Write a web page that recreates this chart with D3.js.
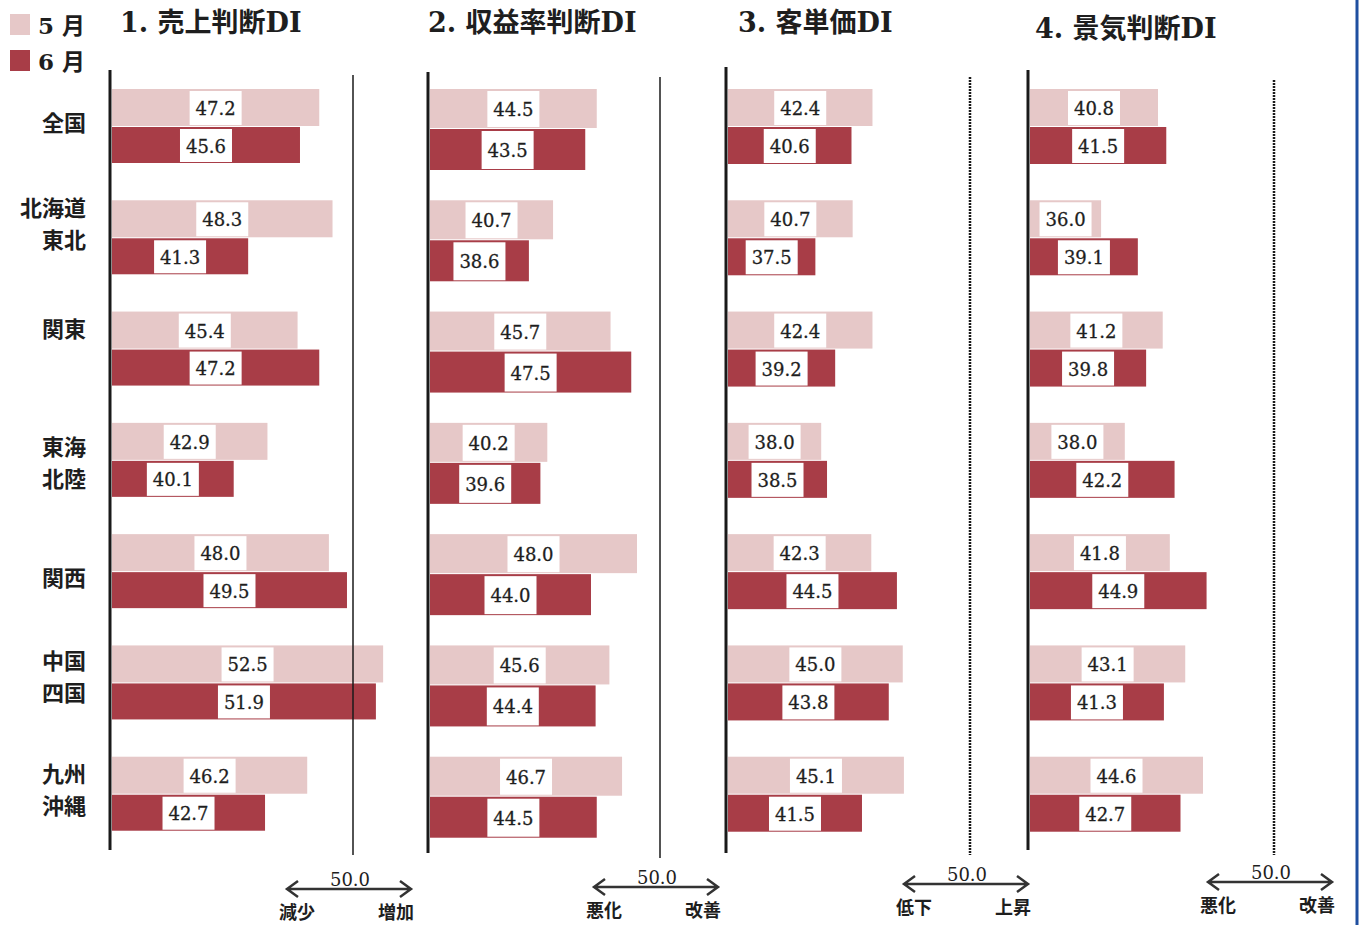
<!DOCTYPE html>
<html>
<head>
<meta charset="utf-8">
<title>DI chart</title>
<script src="https://d3js.org/d3.v7.min.js"></script>
<style>
  body { margin: 0; background: #fff; }
  text { fill: #1e1e1e; }
</style>
</head>
<body>
<script>
// データ
const regionNames = [["全国"], ["北海道", "東北"], ["関東"], ["東海", "北陸"], ["関西"], ["中国", "四国"], ["九州", "沖縄"]];
const monthLabels = ["5 月", "6 月"];
const panelTitles = ["1. 売上判断DI", "2. 収益率判断DI", "3. 客単価DI", "4. 景気判断DI"];
const salesMay    = [47.2, 48.3, 45.4, 42.9, 48.0, 52.5, 46.2];
const salesJun    = [45.6, 41.3, 47.2, 40.1, 49.5, 51.9, 42.7];
const profitMay   = [44.5, 40.7, 45.7, 40.2, 48.0, 45.6, 46.7];
const profitJun   = [43.5, 38.6, 47.5, 39.6, 44.0, 44.4, 44.5];
const priceMay    = [42.4, 40.7, 42.4, 38.0, 42.3, 45.0, 45.1];
const priceJun    = [40.6, 37.5, 39.2, 38.5, 44.5, 43.8, 41.5];
const businessMay = [40.8, 36.0, 41.2, 38.0, 41.8, 43.1, 44.6];
const businessJun = [41.5, 39.1, 39.8, 42.2, 44.9, 41.3, 42.7];
const directionLabels = [["減少", "増加"], ["悪化", "改善"], ["低下", "上昇"], ["悪化", "改善"]];
const baseValue = 30;
const refValue = 50;
const refLabel = "50.0";

const series = [[salesMay, salesJun], [profitMay, profitJun], [priceMay, priceJun], [businessMay, businessJun]];
const colors = ["#e6c8c8", "#a83d47"];

// 画面配置（パネルごと）
const layout = [
  {x0: 112, x50: 353, refShift: 0, barH: [37, 36], axisTop: 70, axisBottom: 850, refTop: 75, refBottom: 855, dotted: false, titleX: 120, titleY: 22, arrowY: 889},
  {x0: 430, x50: 660, refShift: 0, barH: [39, 41], axisTop: 72, axisBottom: 853, refTop: 77, refBottom: 858, dotted: false, titleX: 428, titleY: 22, arrowY: 887},
  {x0: 728, x50: 961, refShift: 9, barH: [37, 37], axisTop: 67, axisBottom: 853, refTop: 77, refBottom: 855, dotted: true, titleX: 738, titleY: 22, arrowY: 884},
  {x0: 1030, x50: 1267, refShift: 7, barH: [37, 37], axisTop: 70, axisBottom: 850, refTop: 80, refBottom: 855, dotted: true, titleX: 1035, titleY: 28, arrowY: 882}
];
const labelDy = [32, 6, 15, 22, 42, 14, 15];

const width = 1362, height = 925;
const svg = d3.select("body").append("svg")
  .attr("width", width).attr("height", height);

const numFont = "'DejaVu Serif', serif";
const jpFont = "'DejaVu Serif', 'Noto Sans CJK JP', sans-serif";

const groupY = d3.scaleLinear().domain([0, regionNames.length]).range([89, 868]);

// 凡例
monthLabels.forEach(function(m, i) {
  svg.append("rect").attr("x", 10).attr("y", 14 + i * 36).attr("width", 20).attr("height", 21)
    .attr("fill", colors[i]);
  svg.append("text").attr("x", 38).attr("y", 25 + i * 36)
    .attr("dominant-baseline", "central")
    .style("font-family", jpFont).style("font-weight", "bold").style("font-size", "23px")
    .text(m);
});

// 地域ラベル
regionNames.forEach(function(lines, i) {
  lines.forEach(function(s, k) {
    svg.append("text")
      .attr("text-anchor", "end")
      .attr("x", 86).attr("y", groupY(i) + labelDy[i] + k * 32)
      .attr("dominant-baseline", "central")
      .style("font-family", "'Noto Sans CJK JP', sans-serif").style("font-weight", "bold").style("font-size", "22px")
      .text(s);
  });
});

// パネル
series.forEach(function(pair, p) {
  const L = layout[p];
  const x = d3.scaleLinear().domain([baseValue, refValue]).range([L.x0, L.x50]);
  const g = svg.append("g");

  g.append("text").attr("x", L.titleX).attr("y", L.titleY)
    .attr("dominant-baseline", "central")
    .style("font-family", jpFont).style("font-weight", "bold").style("font-size", "27px")
    .text(panelTitles[p]);

  pair.forEach(function(vals, s) {
    const yOff = s === 0 ? 0 : L.barH[0] + 1;
    const h = L.barH[s];
    const bars = g.selectAll(".bar" + s).data(vals).enter().append("g");
    bars.append("rect")
      .attr("x", x(baseValue))
      .attr("y", function(d, i) { return groupY(i) + yOff; })
      .attr("width", function(d) { return x(d) - x(baseValue); })
      .attr("height", h)
      .attr("fill", colors[s]);
    bars.append("rect")
      .attr("x", function(d) { return (x(baseValue) + x(d)) / 2 - 26; })
      .attr("y", function(d, i) { return groupY(i) + yOff + 2; })
      .attr("width", 52)
      .attr("height", h - 3)
      .attr("fill", "#fff");
    bars.append("text")
      .attr("x", function(d) { return (x(baseValue) + x(d)) / 2; })
      .attr("y", function(d, i) { return groupY(i) + yOff + h / 2 + 1; })
      .attr("text-anchor", "middle").attr("dominant-baseline", "central")
      .style("font-family", numFont).style("font-size", "18px")
      .style("stroke", "#1e1e1e").style("stroke-width", 0.3)
      .text(function(d) { return d.toFixed(1); });
  });

  // 縦軸
  g.append("line").attr("x1", x(baseValue) - 2).attr("x2", x(baseValue) - 2)
    .attr("y1", L.axisTop).attr("y2", L.axisBottom)
    .attr("stroke", "#1a1a1a").attr("stroke-width", 3);

  // 50.0 の線
  const cx = x(refValue) + L.refShift;
  g.append("line").attr("x1", cx).attr("x2", cx)
    .attr("y1", L.refTop).attr("y2", L.refBottom)
    .attr("stroke", "#1a1a1a").attr("stroke-width", L.dotted ? 2.5 : 1.5)
    .attr("stroke-dasharray", L.dotted ? "2,1" : null);

  // 下の矢印
  const ay = L.arrowY;
  const l = cx - 66, r = cx + 58;
  g.append("path")
    .attr("d", "M" + (l + 11) + "," + (ay - 8) + "L" + l + "," + ay + "L" + (l + 11) + "," + (ay + 8)
      + "M" + l + "," + ay + "H" + r
      + "M" + (r - 11) + "," + (ay - 8) + "L" + r + "," + ay + "L" + (r - 11) + "," + (ay + 8))
    .attr("fill", "none").attr("stroke", "#333").attr("stroke-width", 2.5);
  g.append("text").attr("x", cx - 3).attr("y", ay - 3)
    .attr("text-anchor", "middle")
    .style("font-family", numFont).style("font-size", "18px")
    .text(refLabel);
  directionLabels[p].forEach(function(s, k) {
    g.append("text").attr("x", k === 0 ? cx - 56 : cx + 43).attr("y", ay + 22)
      .attr("text-anchor", "middle").attr("dominant-baseline", "central")
      .style("font-family", "'Noto Sans CJK JP', sans-serif").style("font-weight", "bold").style("font-size", "18px")
      .text(s);
  });
});

// 右端の青線
svg.append("line").attr("x1", 1357).attr("x2", 1357).attr("y1", 0).attr("y2", height)
  .attr("stroke", "#1f4fa0").attr("stroke-width", 3);
</script>
</body>
</html>
